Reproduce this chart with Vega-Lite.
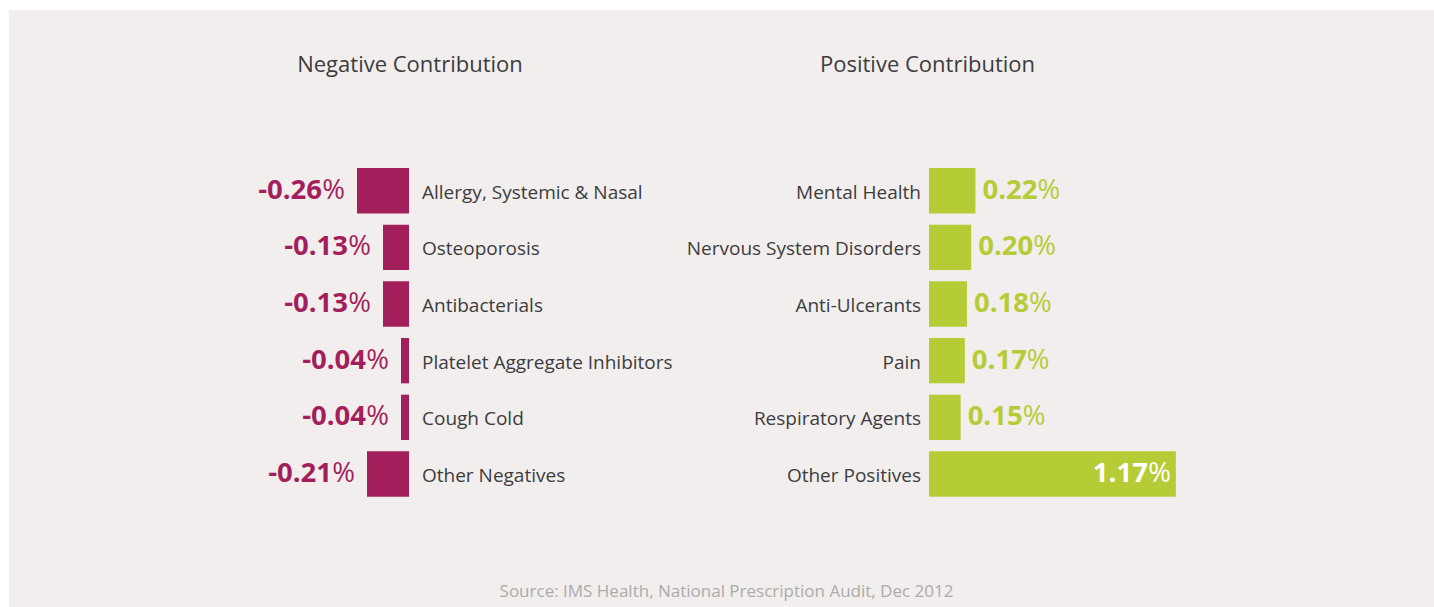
{
  "$schema": "https://vega.github.io/schema/vega-lite/v6.json",
  "width": 1434,
  "height": 607,
  "autosize": {"type": "fit", "contains": "padding"},
  "padding": {"left": 9, "top": 10, "right": 0, "bottom": 0},
  "background": "#FFFFFF",
  "config": {
    "view": {"fill": "#F2EEED", "stroke": null},
    "font": "Open Sans",
    "text": {"font": "Open Sans"}
  },
  "data": {
    "values": [
      {"side": "neg", "category": "Allergy, Systemic & Nasal", "value": -0.26, "num": "-0.26"},
      {"side": "neg", "category": "Osteoporosis", "value": -0.13, "num": "-0.13"},
      {"side": "neg", "category": "Antibacterials", "value": -0.13, "num": "-0.13"},
      {"side": "neg", "category": "Platelet Aggregate Inhibitors", "value": -0.04, "num": "-0.04"},
      {"side": "neg", "category": "Cough Cold", "value": -0.04, "num": "-0.04"},
      {"side": "neg", "category": "Other Negatives", "value": -0.21, "num": "-0.21"},
      {"side": "pos", "category": "Mental Health", "value": 0.22, "num": "0.22"},
      {"side": "pos", "category": "Nervous System Disorders", "value": 0.2, "num": "0.20"},
      {"side": "pos", "category": "Anti-Ulcerants", "value": 0.18, "num": "0.18"},
      {"side": "pos", "category": "Pain", "value": 0.17, "num": "0.17"},
      {"side": "pos", "category": "Respiratory Agents", "value": 0.15, "num": "0.15"},
      {"side": "pos", "category": "Other Positives", "value": 1.17, "num": "1.17"}
    ]
  },
  "layer": [
    {
      "transform": [{"filter": "datum.side === 'neg'"}],
      "encoding": {
        "y": {
          "field": "category", "type": "nominal", "sort": null,
          "scale": {"range": [152.4, 492.3], "paddingInner": 0.2, "paddingOuter": 0.1},
          "axis": {
            "title": "Source: IMS Health, National Prescription Audit, Dec 2012",
            "labels": false, "ticks": false, "domain": false, "grid": false,
            "titleAngle": 0, "titleX": 717, "titleY": 586, "titleAlign": "center",
            "titleBaseline": "alphabetic", "titleFont": "Open Sans", "titleFontSize": 17,
            "titleFontWeight": "normal", "titleColor": "#ABABAB"
          }
        }
      },
      "layer": [
        {
          "mark": {"type": "bar", "color": "#A31F5C"},
          "encoding": {
            "x": {
              "field": "value", "type": "quantitative",
              "scale": {"domain": [-2.0, 5.125], "zero": false, "nice": false},
              "axis": {
                "orient": "top", "title": "Negative Contribution",
                "labels": false, "ticks": false, "domain": false, "grid": false,
                "titleX": 400.5, "titleY": 61, "titleAlign": "center", "titleBaseline": "alphabetic",
                "titleFont": "Open Sans", "titleFontSize": 22, "titleFontWeight": "normal", "titleColor": "#3C3C3E"
              }
            }
          }
        },
        {
          "mark": {"type": "text", "align": "left", "baseline": "middle", "dx": 13, "dy": 2, "fontSize": 19, "color": "#3C3C3E"},
          "encoding": {
            "x": {"datum": 0, "type": "quantitative"},
            "text": {"field": "category"}
          }
        },
        {
          "mark": {"type": "text", "align": "right", "baseline": "middle", "dx": -35, "dy": 0, "fontSize": 27.5, "fontWeight": "bold", "color": "#A31F5C"},
          "encoding": {
            "x": {"field": "value", "type": "quantitative"},
            "text": {"field": "num"}
          }
        },
        {
          "mark": {"type": "text", "align": "right", "baseline": "middle", "dx": -12, "dy": 0, "fontSize": 27.5, "color": "#A31F5C"},
          "encoding": {
            "x": {"field": "value", "type": "quantitative"},
            "text": {"value": "%"}
          }
        }
      ]
    },
    {
      "transform": [{"filter": "datum.side === 'pos'"}],
      "encoding": {
        "y": {
          "field": "category", "type": "nominal", "sort": null,
          "scale": {"range": [152.4, 492.3], "paddingInner": 0.2, "paddingOuter": 0.1},
          "axis": null
        }
      },
      "layer": [
        {
          "mark": {"type": "bar", "color": "#B5CC37"},
          "encoding": {
            "x": {
              "field": "value", "type": "quantitative",
              "scale": {"domain": [-4.3602, 2.3934], "zero": false, "nice": false},
              "axis": {
                "orient": "top", "title": "Positive Contribution",
                "labels": false, "ticks": false, "domain": false, "grid": false,
                "titleX": 918, "titleY": 61, "titleAlign": "center", "titleBaseline": "alphabetic",
                "titleFont": "Open Sans", "titleFontSize": 22, "titleFontWeight": "normal", "titleColor": "#3C3C3E"
              }
            }
          }
        },
        {
          "mark": {"type": "text", "align": "right", "baseline": "middle", "dx": -8, "dy": 2, "fontSize": 19, "color": "#3C3C3E"},
          "encoding": {
            "x": {"datum": 0, "type": "quantitative"},
            "text": {"field": "category"}
          }
        },
        {
          "transform": [{"filter": "datum.value < 1"}],
          "mark": {"type": "text", "align": "left", "baseline": "middle", "dx": 7, "fontSize": 27.5, "fontWeight": "bold", "color": "#B5CC37"},
          "encoding": {
            "x": {"field": "value", "type": "quantitative"},
            "text": {"field": "num"}
          }
        },
        {
          "transform": [{"filter": "datum.value < 1"}],
          "mark": {"type": "text", "align": "left", "baseline": "middle", "dx": 62, "fontSize": 27.5, "color": "#B5CC37"},
          "encoding": {
            "x": {"field": "value", "type": "quantitative"},
            "text": {"value": "%"}
          }
        },
        {
          "transform": [{"filter": "datum.value >= 1"}],
          "mark": {"type": "text", "align": "right", "baseline": "middle", "dx": -28, "fontSize": 27.5, "fontWeight": "bold", "color": "#FFFFFF"},
          "encoding": {
            "x": {"field": "value", "type": "quantitative"},
            "text": {"field": "num"}
          }
        },
        {
          "transform": [{"filter": "datum.value >= 1"}],
          "mark": {"type": "text", "align": "right", "baseline": "middle", "dx": -5, "fontSize": 27.5, "color": "#FFFFFF"},
          "encoding": {
            "x": {"field": "value", "type": "quantitative"},
            "text": {"value": "%"}
          }
        }
      ]
    }
  ],
  "resolve": {"scale": {"x": "independent", "y": "independent"}}
}
